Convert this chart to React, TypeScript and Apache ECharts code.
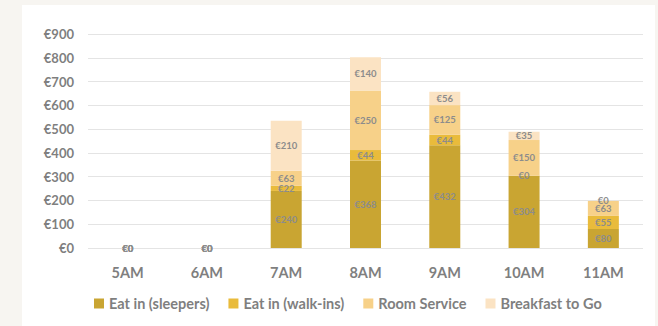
import React, { useEffect, useRef } from "react";
import * as echarts from "echarts";

const categories = ["5AM", "6AM", "7AM", "8AM", "9AM", "10AM", "11AM"];
const sleepers = [0, 0, 240, 368, 432, 304, 80];
const walkIns = [0, 0, 22, 44, 44, 0, 55];
const roomService = [0, 0, 63, 250, 125, 150, 63];
const breakfastToGo = [0, 0, 210, 140, 56, 35, 0];
const seriesNames = ["Eat in (sleepers)", "Eat in (walk-ins)", "Room Service", "Breakfast to Go"];
const colors = ["#C9A532", "#E9BB3B", "#F7D189", "#FBE3C3"];

const FONT = "Lato, 'Open Sans', sans-serif";

export default function App() {
  const ref = useRef<HTMLDivElement>(null);
  useEffect(() => {
    if (!ref.current) return;
    const chart = echarts.init(ref.current, undefined, { renderer: "svg" });
    const data = [sleepers, walkIns, roomService, breakfastToGo];
    chart.setOption({
      animation: false,
      backgroundColor: "#F7F5F1",
      textStyle: { fontFamily: FONT },
      graphic: [
        {
          type: "rect",
          z: -10,
          shape: { x: 22, y: 5, width: 633, height: 321 },
          style: { fill: "#FFFFFF" },
          silent: true,
        },
      ],
      grid: { left: 88, right: 15, top: 34, bottom: 78 },
      legend: {
        bottom: 10,
        left: 89,
        itemWidth: 10,
        itemHeight: 10,
        itemGap: 19,
        icon: "rect",
        textStyle: { color: "#7F7F7F", fontSize: 14.5, fontWeight: "bold", fontFamily: FONT },
        data: seriesNames,
      },
      xAxis: {
        type: "category",
        data: categories,
        axisLine: { show: false },
        axisTick: { show: false },
        axisLabel: { color: "#7F7F7F", fontSize: 14.5, fontWeight: "bold", margin: 17, fontFamily: FONT },
      },
      yAxis: {
        type: "value",
        min: 0,
        max: 900,
        interval: 100,
        axisLine: { show: false },
        axisTick: { show: false },
        splitLine: { lineStyle: { color: "#E4E4E4", width: 1 } },
        axisLabel: {
          color: "#7F7F7F",
          fontSize: 13,
          fontWeight: "bold",
          margin: 14,
          fontFamily: FONT,
          formatter: (v: number) => "€" + v,
        },
      },
      series: seriesNames.map((name, i) => ({
        name,
        type: "bar",
        stack: "total",
        barWidth: 31,
        data: data[i],
        itemStyle: { color: colors[i] },
        label: {
          show: true,
          position: "inside",
          fontSize: 9.5,
          fontWeight: "bold",
          color: "#8C8C8C",
          fontFamily: FONT,
          formatter: (p: any) => "€" + p.value,
        },
      })),
    });
    return () => chart.dispose();
  }, []);
  return (
    <div style={{ position: "fixed", left: 0, top: 0, width: 658, height: 326 }}>
      <div ref={ref} style={{ width: 658, height: 326 }} />
    </div>
  );
}
